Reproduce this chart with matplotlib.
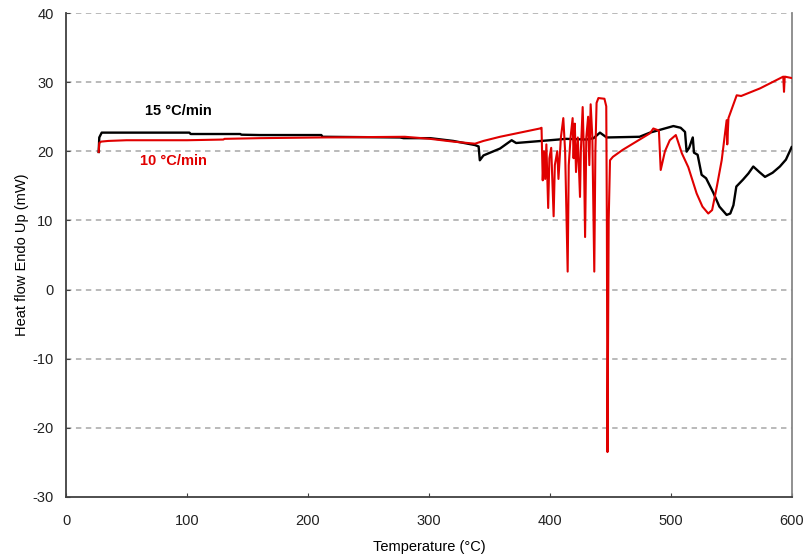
import matplotlib
matplotlib.use("Agg")

import matplotlib.pyplot as plt

# 15 °C/min run (black)
temp_15 = [27, 27.5, 29.5, 102, 103, 144, 145, 160, 211, 212, 276, 279, 301,
           320, 338, 341, 342, 345, 358.7, 368.3, 372, 386, 400, 413.5, 430, 436, 441.3,
           446.8, 474, 482.6, 502, 508, 511.6, 512.9, 515, 518, 519, 522, 525.3,
           529, 535, 540, 546, 549, 551.6, 554, 559.5, 564, 568, 573, 577.7,
           584, 590, 595, 599.7]
heat_15 = [19.9, 22.0, 22.7, 22.7, 22.5, 22.5, 22.4, 22.35, 22.35, 22.1, 22.0, 21.9, 21.9,
           21.5, 20.9, 20.7, 18.7, 19.4, 20.4, 21.6, 21.2, 21.4, 21.6, 21.8, 21.7, 21.9, 22.7,
           22.0, 22.1, 22.7, 23.65, 23.4, 22.8, 19.95, 20.5, 22.0, 19.8, 19.5, 16.6,
           16.1, 14.0, 12.0, 10.8, 11.0, 12.2, 14.9, 15.9, 16.8, 17.8, 17.0, 16.3,
           16.9, 17.8, 18.8, 20.6]

# 10 °C/min run (red)
temp_10 = [27, 27.5, 29, 35, 50, 100, 130, 131, 160, 210, 280, 301, 320, 338,
           345, 358.7, 391.7, 393, 394, 395, 396, 397, 398.5, 399.5, 401, 403,
           404, 406, 407, 409, 411, 412.5, 414.6, 415.5, 417, 418.7, 419.5, 420.5,
           421.5, 423, 424.8, 425.5, 427, 428, 429, 430, 431.5, 432.5, 433.6, 435,
           436.6, 437.5, 438.5, 440, 445, 446.5, 447, 447.5, 448.5, 449.6, 452,
           460, 482.6, 485.4, 490, 491.5, 495, 499, 504, 509, 514.3, 521.2, 526,
           530.8, 534, 538, 541.9, 546, 546.5, 547.5, 554.3, 558, 573.6, 592.8,
           593.4, 594, 599.7]
heat_10 = [19.9, 21.2, 21.4, 21.5, 21.6, 21.6, 21.7, 21.8, 21.9, 22.0, 22.1, 21.8, 21.4, 21.1,
           21.5, 22.1, 23.3, 23.4, 15.8, 20.0, 16.0, 21.0, 11.8, 19.0, 20.5, 10.6,
           18.0, 20.0, 16.0, 22.0, 24.8, 20.0, 2.6, 18.0, 22.0, 24.8, 19.0, 24.0,
           17.0, 22.0, 13.4, 20.0, 26.4, 20.0, 7.6, 22.0, 25.0, 18.0, 26.8, 22.0,
           2.6, 20.0, 27.0, 27.7, 27.6, 26.5, 10.0, -23.5, 10.0, 18.7, 19.2,
           20.2, 22.6, 23.3, 23.0, 17.3, 20.0, 21.6, 22.35, 19.7, 17.7, 13.9, 12.0,
           11.0, 11.5, 15.0, 18.7, 24.5, 21.0, 24.8, 28.1, 28.0, 29.1, 30.8,
           28.6, 30.8, 30.6]

x_ticks = [0, 100, 200, 300, 400, 500, 600]
y_ticks = [-30, -20, -10, 0, 10, 20, 30, 40]

plt.rcParams["font.family"] = ["Liberation Sans", "DejaVu Sans"]
plt.rcParams["axes.unicode_minus"] = False

fig = plt.figure(figsize=(8.07, 5.54), dpi=100)
ax = fig.add_axes([0.0818, 0.1029, 0.8996, 0.8736])

ax.plot(temp_15, heat_15, color="black", linewidth=1.7, zorder=3)
ax.plot(temp_10, heat_10, color="#e00000", linewidth=1.5, zorder=4)

ax.text(92.6, 25.8, "15 °C/min", color="black", fontsize=10.5,
        fontweight="bold", ha="center", va="center")
ax.text(88.8, 18.6, "10 °C/min", color="#e00000", fontsize=10.5,
        fontweight="bold", ha="center", va="center")

ax.set_xlim(0, 600)
ax.set_ylim(-30, 40)
ax.set_xticks(x_ticks)
ax.set_yticks(y_ticks)

# dashed horizontal grid, the top line acts as the upper frame
for v in y_ticks[1:]:
    ax.axhline(v, color="#b4b4b4", linestyle=(0, (3, 2.5)), linewidth=1.3, zorder=1)

ax.spines["top"].set_visible(False)
ax.spines["right"].set_color("#888888")
ax.spines["right"].set_linewidth(1.3)
for side in ["left", "bottom"]:
    ax.spines[side].set_color("#404040")
    ax.spines[side].set_linewidth(1.3)

ax.tick_params(direction="in", length=3, color="#404040", labelsize=10.5,
               labelcolor="#222222")
ax.tick_params(axis="y", pad=9)
ax.tick_params(axis="x", pad=12)

ax.set_xlabel("Temperature (°C)", fontsize=10.5, labelpad=9)
ax.set_ylabel("Heat flow Endo Up (mW)", fontsize=10.5, labelpad=2)

fig.savefig("out.png", dpi=100)
plt.close(fig)
